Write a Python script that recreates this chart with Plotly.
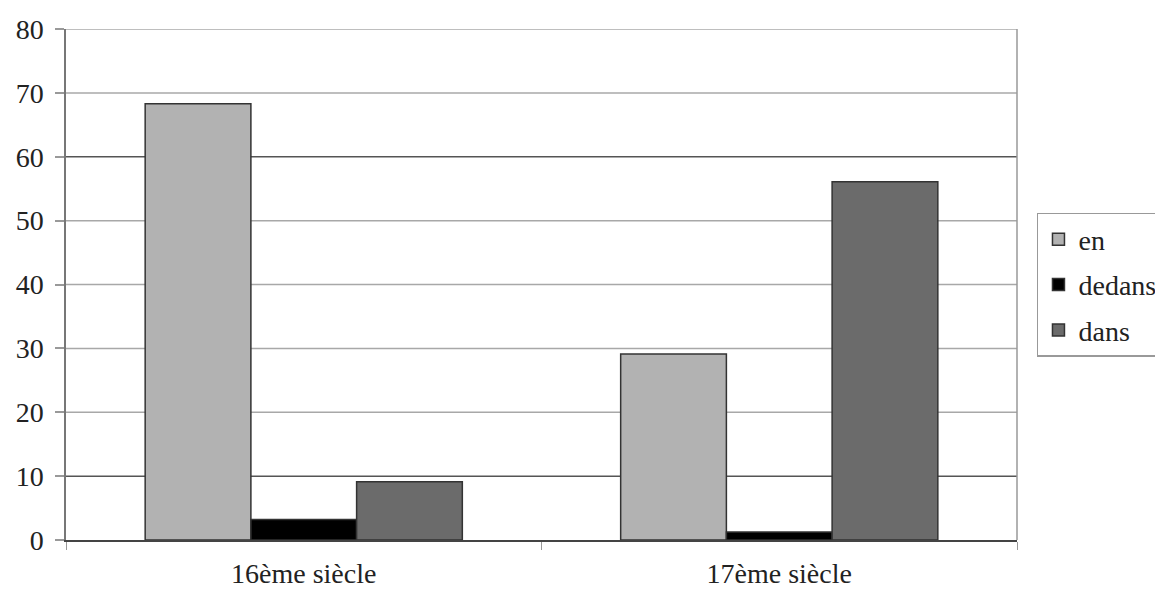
import plotly.graph_objects as go

categories = ["16ème siècle", "17ème siècle"]
series_names = ["en", "dedans", "dans"]
en_values = [68.3, 29.1]
dedans_values = [3.2, 1.25]
dans_values = [9.1, 56.1]
colors = ["#b2b2b2", "#000000", "#6b6b6b"]
y_ticks = [0, 10, 20, 30, 40, 50, 60, 70, 80]
dark_gridlines = [60, 10]

FONT = "Liberation Serif"

fig = go.Figure()
for name, vals, col in zip(series_names, [en_values, dedans_values, dans_values], colors):
    fig.add_trace(go.Bar(
        x=categories, y=vals, name=name, legendgroup=name,
        marker=dict(color=col, line=dict(color="#333333", width=1.5)),
    ))

fig.update_layout(
    width=1155, height=593,
    margin=dict(l=58, r=146, t=21, b=61, autoexpand=False),
    paper_bgcolor="white", plot_bgcolor="white",
    barmode="group", bargap=0.333, bargroupgap=0,
    font=dict(family=FONT, size=28, color="#222222"),
    showlegend=True,
    legend=dict(
        x=1.021, xanchor="left", y=0.64, yanchor="top",
        bordercolor="#999999", borderwidth=1.5,
        font=dict(family=FONT, size=28, color="#222222"),
        itemclick=False, itemdoubleclick=False,
        tracegroupgap=6,
    ),
)

fig.update_yaxes(
    range=[0, 80], tickvals=y_ticks, ticktext=[str(v) for v in y_ticks],
    showgrid=False, automargin=False,
    showline=True, linecolor="#777777", linewidth=1.5,
    ticks="outside", ticklen=9, tickcolor="#999999", tickwidth=1.5,
    ticklabelstandoff=6,
    tickfont=dict(family=FONT, size=28, color="#222222"),
    zeroline=False,
)
fig.update_xaxes(
    showline=True, linecolor="#444444", linewidth=1.5, automargin=False,
    mirror=False,
    ticks="outside", ticklen=8, tickcolor="#999999", tickson="boundaries",
    tickfont=dict(family=FONT, size=28, color="#222222"),
    ticklabelstandoff=8,
)
# gridlines (some rendered darker, as in the reference)
for v in y_ticks[1:]:
    col = "#555555" if v in dark_gridlines else "#a8a8a8"
    fig.add_hline(y=v, line=dict(color=col, width=1.5), layer="below")
# right border of plot area
fig.add_shape(type="line", xref="paper", yref="paper", x0=1, x1=1, y0=0, y1=1,
              line=dict(color="#999999", width=1.5))

fig.write_html("out.html")
